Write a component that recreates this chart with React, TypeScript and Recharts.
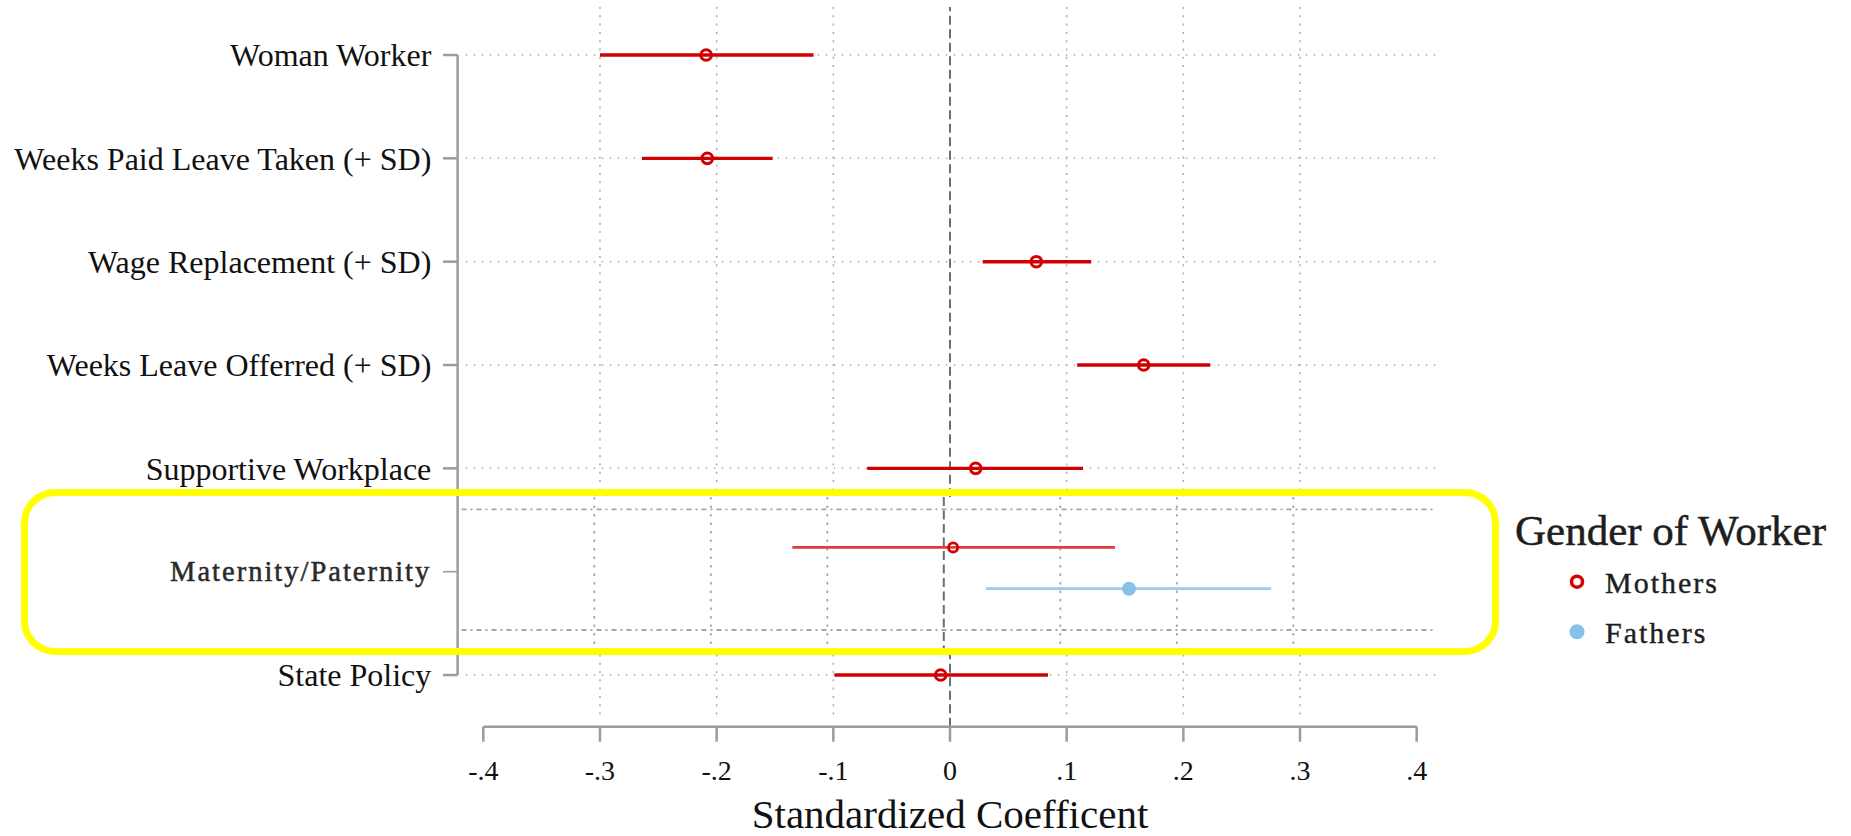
import React from 'react';
import { ScatterChart, Scatter, XAxis, YAxis, ReferenceLine, ErrorBar, Legend } from 'recharts';

// ---------- data ----------
const categories = [
  'Woman Worker',
  'Weeks Paid Leave Taken (+ SD)',
  'Wage Replacement (+ SD)',
  'Weeks Leave Offerred (+ SD)',
  'Supportive Workplace',
  'Maternity/Paternity',
  'State Policy',
];
const mainRows = [0, 1, 2, 3, 4, 6];
const mothersEstimate = [-0.209, -0.208, 0.074, 0.166, 0.022, -0.008];
const mothersLow = [-0.3, -0.264, 0.028, 0.109, -0.071, -0.099];
const mothersHigh = [-0.117, -0.152, 0.121, 0.223, 0.114, 0.084];

const insetRow = 5;
const insetSeries = ['Mothers', 'Fathers'];
const insetEstimate = [0.008, 0.159];
const insetLow = [-0.13, 0.036];
const insetHigh = [0.147, 0.281];

const xTicks = [-0.4, -0.3, -0.2, -0.1, 0, 0.1, 0.2, 0.3, 0.4];
const gridX = [-0.3, -0.2, -0.1, 0.1, 0.2, 0.3];
const legendTitle = 'Gender of Worker';
const axisTitle = 'Standardized Coefficent';

// ---------- style constants ----------
const FONT = "'Liberation Serif', 'Times New Roman', serif";
const RED = '#d20000';
const RED_LIGHT = '#e23a3a';
const BLUE = '#86c1ea';
const BLUE_LINE = '#9ccbec';
const AXIS = '#9c9c9c';
const GRID = '#ababab';

const mainData = mainRows.map((row, i) => ({
  row,
  est: mothersEstimate[i],
  err: [mothersEstimate[i] - mothersLow[i], mothersHigh[i] - mothersEstimate[i]],
}));
const insetData = insetSeries.map((name, i) => [
  {
    row: i + 1,
    est: insetEstimate[i],
    err: [insetEstimate[i] - insetLow[i], insetHigh[i] - insetEstimate[i]],
  },
]);

const fmt = (v: number) => {
  if (Math.abs(v) < 1e-9) return '0';
  return (v < 0 ? '-' : '') + '.' + Math.round(Math.abs(v) * 10);
};

const CategoryTick = (props: any) => {
  const { x, y, payload } = props;
  const idx = payload.value as number;
  const label = categories[idx];
  const isInset = idx === insetRow;
  return (
    <g>
      <line x1={x - 40.3} x2={x - 25.6} y1={y} y2={y} stroke={AXIS} strokeWidth={isInset ? 1.6 : 2.5} />
      <text
        x={x - 52}
        y={y}
        dy={isInset ? '0.33em' : '0.35em'}
        textAnchor="end"
        fontFamily={FONT}
        fontSize={isInset ? 28.5 : 32}
        letterSpacing={isInset ? 2 : 0}
        fill={isInset ? '#2a2a2a' : '#111'}
        stroke={isInset ? '#2a2a2a' : 'none'}
        strokeWidth={isInset ? 0.5 : 0}
      >
        {label}
      </text>
    </g>
  );
};

const MotherDot = (props: any) => (
  <circle cx={props.cx} cy={props.cy} r={5.3} fill="none" stroke={RED} strokeWidth={3} />
);
const InsetMotherDot = (props: any) => (
  <circle cx={props.cx} cy={props.cy} r={4.6} fill="none" stroke={RED} strokeWidth={2.8} />
);
const FatherDot = (props: any) => <circle cx={props.cx} cy={props.cy} r={7} fill={BLUE} />;

const LegendContent = () => (
  <svg width={351} height={180} style={{ overflow: 'visible' }}>
    <text x={15} y={55} fontFamily={FONT} fontSize={43} fill="#1e1e1e" stroke="#1e1e1e" strokeWidth={0.5}>
      {legendTitle}
    </text>
    <circle cx={77} cy={91.7} r={5.5} fill="none" stroke={RED} strokeWidth={3.5} />
    <text x={105} y={103.3} fontFamily={FONT} fontSize={30} letterSpacing={2} fill="#1e1e1e" stroke="#1e1e1e" strokeWidth={0.4}>
      {insetSeries[0]}
    </text>
    <circle cx={77} cy={141.7} r={7.5} fill={BLUE} />
    <text x={105} y={153.3} fontFamily={FONT} fontSize={30} letterSpacing={2} fill="#1e1e1e" stroke="#1e1e1e" strokeWidth={0.4}>
      {insetSeries[1]}
    </text>
  </svg>
);

export default function App() {
  const Y_TOP = -0.4645;
  const Y_BOTTOM = 6.5;
  const Y_GRID_END = 6.42;
  const Y_AXIS_X = -0.422;
  const H_GRID_X0 = -0.415;
  const H_GRID_X1 = 0.4217;

  const IN_Y0 = 0.078;
  const IN_Y1 = 3;
  const IN_TOP = -0.22;
  const IN_BOTTOM = 3.46;
  const IN_X0 = -0.414;
  const IN_X1 = 0.42;

  return (
    <div style={{ position: 'relative', width: 1851, height: 836, background: '#fff' }}>
      <style>{`body{margin:0;background:#fff;}`}</style>
      <ScatterChart width={1851} height={836} margin={{ top: 7, right: 434.3, bottom: 0, left: 0 }}>
        <XAxis
          type="number"
          dataKey="est"
          domain={[-0.4, 0.4]}
          ticks={xTicks}
          tickFormatter={fmt}
          height={109.3}
          tickSize={15}
          tickMargin={18}
          interval={0}
          allowDataOverflow
          axisLine={{ stroke: AXIS, strokeWidth: 2.5 }}
          tickLine={{ stroke: AXIS, strokeWidth: 2.5 }}
          tick={{ fontSize: 28, fill: '#111', fontFamily: FONT }}
          label={{
            value: axisTitle,
            position: 'insideBottom',
            offset: 8,
            style: { fontSize: 41, fontFamily: FONT, fill: '#111' },
          }}
        />
        <YAxis
          type="number"
          dataKey="row"
          domain={[Y_TOP, Y_BOTTOM]}
          reversed
          ticks={[0, 1, 2, 3, 4, 5, 6]}
          interval={0}
          width={483.3}
          tickSize={0}
          tickMargin={0}
          axisLine={false}
          tickLine={false}
          allowDataOverflow
          tick={(p: any) => <CategoryTick {...p} />}
        />
        {gridX.map((v) => (
          <ReferenceLine
            key={'vg' + v}
            segment={[{ x: v, y: Y_TOP }, { x: v, y: Y_GRID_END }]}
            stroke={GRID}
            strokeWidth={1.5}
            strokeDasharray="2 6.3"
            ifOverflow="visible"
          />
        ))}
        {mainRows.map((r) => (
          <ReferenceLine
            key={'hg' + r}
            segment={[{ x: H_GRID_X0, y: r }, { x: H_GRID_X1, y: r }]}
            stroke={GRID}
            strokeWidth={1.5}
            strokeDasharray="1.5 6.5"
            ifOverflow="visible"
          />
        ))}
        <ReferenceLine
          segment={[{ x: Y_AXIS_X, y: 0 }, { x: Y_AXIS_X, y: 6 }]}
          stroke={AXIS}
          strokeWidth={2.5}
          ifOverflow="visible"
        />
        <ReferenceLine x={0} stroke="#6e6e6e" strokeWidth={2} strokeDasharray="9 4.5" ifOverflow="visible" />
        <Scatter name={insetSeries[0]} data={mainData} shape={MotherDot} isAnimationActive={false}>
          <ErrorBar dataKey="err" direction="x" width={0} stroke={RED} strokeWidth={3.4} isAnimationActive={false} />
        </Scatter>
        <Legend
          layout="vertical"
          align="center"
          verticalAlign="middle"
          wrapperStyle={{ left: 1500, top: 490, width: 351, height: 180 }}
          content={() => <LegendContent />}
        />
      </ScatterChart>

      <div style={{ position: 'absolute', left: 460, top: 497, width: 1032, height: 152, background: '#fff' }}>
        <ScatterChart width={1032} height={152} margin={{ top: 12.3, right: 82.2, bottom: 19, left: 17.8 }}>
          <XAxis type="number" dataKey="est" domain={[-0.4, 0.4]} hide allowDataOverflow />
          <YAxis type="number" dataKey="row" domain={[IN_Y0, IN_Y1]} reversed hide allowDataOverflow />
          {[IN_Y0, IN_Y1].map((yv) => (
            <ReferenceLine
              key={'ih' + yv}
              segment={[{ x: IN_X0, y: yv }, { x: IN_X1, y: yv }]}
              stroke="#a6a6a6"
              strokeWidth={1.8}
              strokeDasharray="5 4 2 4"
              ifOverflow="visible"
            />
          ))}
          {gridX.map((v) => (
            <ReferenceLine
              key={'iv' + v}
              segment={[{ x: v, y: IN_TOP }, { x: v, y: IN_BOTTOM }]}
              stroke="#a6a6a6"
              strokeWidth={1.8}
              strokeDasharray="2.5 6"
              ifOverflow="visible"
            />
          ))}
          <ReferenceLine
            segment={[{ x: 0, y: IN_TOP }, { x: 0, y: IN_BOTTOM }]}
            stroke="#6e6e6e"
            strokeWidth={2}
            strokeDasharray="9 4.5"
            ifOverflow="visible"
          />
          <Scatter name={insetSeries[0]} data={insetData[0]} shape={InsetMotherDot} isAnimationActive={false}>
            <ErrorBar dataKey="err" direction="x" width={0} stroke={RED_LIGHT} strokeWidth={2.8} isAnimationActive={false} />
          </Scatter>
          <Scatter name={insetSeries[1]} data={insetData[1]} shape={FatherDot} isAnimationActive={false}>
            <ErrorBar dataKey="err" direction="x" width={0} stroke={BLUE_LINE} strokeWidth={2.8} isAnimationActive={false} />
          </Scatter>
        </ScatterChart>
      </div>

      <div
        style={{
          position: 'absolute',
          left: 20.5,
          top: 489,
          width: 1478.5,
          height: 166,
          border: '7.5px solid #ffff00',
          borderRadius: 34,
          boxSizing: 'border-box',
          pointerEvents: 'none',
        }}
      />
    </div>
  );
}
